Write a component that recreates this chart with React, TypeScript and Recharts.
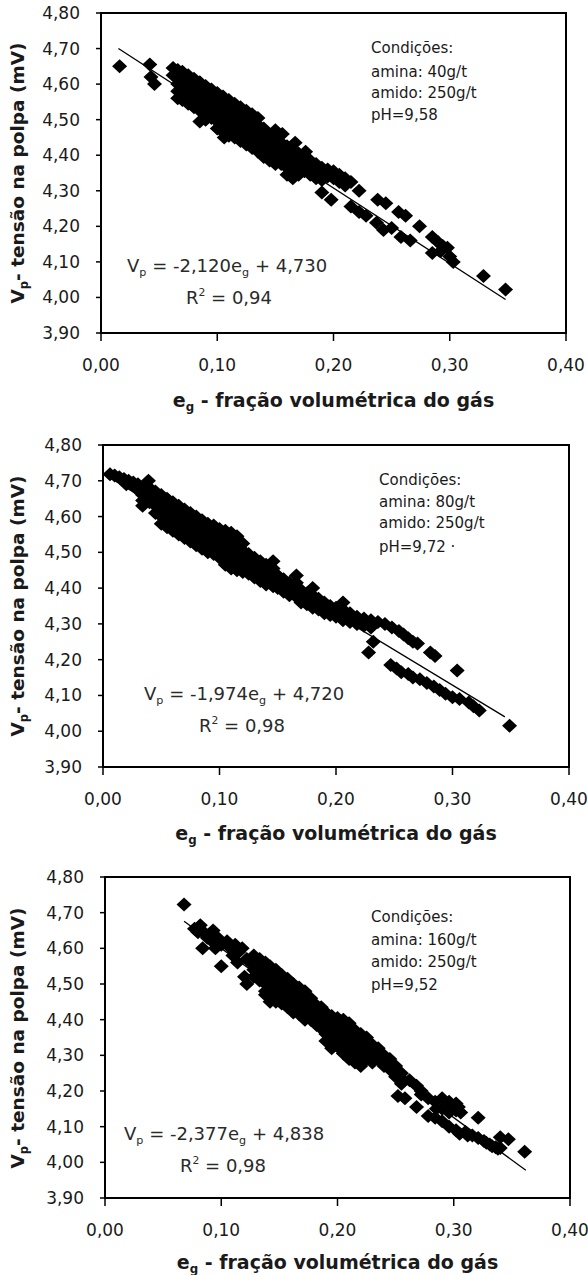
import React from 'react';
import { ScatterChart, Scatter, XAxis, YAxis, ReferenceArea, ReferenceLine } from 'recharts';

const xTicks = [0, 0.1, 0.2, 0.3, 0.4];
const yTicks = [3.9, 4.0, 4.1, 4.2, 4.3, 4.4, 4.5, 4.6, 4.7, 4.8];

// Chart 1 – amina 40 g/t : [eg, Vp]
const points1: number[][] = [
  [0.016, 4.65], [0.042, 4.655], [0.043, 4.62], [0.046, 4.6],
  [0.062, 4.645], [0.062, 4.625],
  [0.066, 4.64], [0.066, 4.62], [0.066, 4.6], [0.066, 4.58], [0.066, 4.56],
  [0.07, 4.635], [0.07, 4.615], [0.07, 4.595], [0.07, 4.575], [0.07, 4.555],
  [0.075, 4.625], [0.075, 4.605], [0.075, 4.585], [0.075, 4.565], [0.075, 4.545],
  [0.08, 4.615], [0.08, 4.595], [0.08, 4.575], [0.08, 4.555], [0.08, 4.535],
  [0.085, 4.605], [0.085, 4.585], [0.085, 4.565], [0.085, 4.545], [0.085, 4.525], [0.085, 4.495],
  [0.09, 4.595], [0.09, 4.575], [0.09, 4.555], [0.09, 4.535], [0.09, 4.515], [0.09, 4.5],
  [0.095, 4.585], [0.095, 4.565], [0.095, 4.545], [0.095, 4.525], [0.095, 4.505],
  [0.1, 4.575], [0.1, 4.555], [0.1, 4.535], [0.1, 4.515], [0.1, 4.495], [0.1, 4.475],
  [0.105, 4.565], [0.105, 4.545], [0.105, 4.525], [0.105, 4.505], [0.105, 4.485], [0.105, 4.465], [0.106, 4.45],
  [0.11, 4.555], [0.11, 4.535], [0.11, 4.515], [0.11, 4.495], [0.11, 4.475], [0.11, 4.455],
  [0.115, 4.545], [0.115, 4.525], [0.115, 4.505], [0.115, 4.485], [0.115, 4.465], [0.115, 4.45],
  [0.12, 4.535], [0.12, 4.515], [0.12, 4.495], [0.12, 4.475], [0.12, 4.455], [0.12, 4.44],
  [0.125, 4.525], [0.125, 4.505], [0.125, 4.485], [0.125, 4.465], [0.125, 4.445], [0.125, 4.43],
  [0.13, 4.515], [0.13, 4.495], [0.13, 4.475], [0.13, 4.455], [0.13, 4.435], [0.13, 4.42],
  [0.135, 4.505], [0.135, 4.485], [0.135, 4.465], [0.135, 4.445], [0.135, 4.425], [0.135, 4.41],
  [0.14, 4.475], [0.14, 4.455], [0.14, 4.435], [0.14, 4.415], [0.14, 4.395],
  [0.145, 4.455], [0.145, 4.435], [0.145, 4.415], [0.145, 4.395], [0.145, 4.385],
  [0.15, 4.445], [0.15, 4.425], [0.15, 4.405], [0.15, 4.385], [0.15, 4.375],
  [0.155, 4.435], [0.155, 4.415], [0.155, 4.395], [0.155, 4.375],
  [0.16, 4.425], [0.16, 4.405], [0.16, 4.385], [0.16, 4.365], [0.16, 4.345],
  [0.165, 4.415], [0.165, 4.395], [0.165, 4.375], [0.165, 4.355], [0.165, 4.335],
  [0.17, 4.405], [0.17, 4.385], [0.17, 4.365], [0.17, 4.345],
  [0.175, 4.395], [0.175, 4.375], [0.175, 4.355],
  [0.15, 4.47], [0.156, 4.46], [0.167, 4.435], [0.176, 4.41],
  [0.18, 4.385], [0.18, 4.365], [0.18, 4.345],
  [0.185, 4.375], [0.185, 4.355], [0.185, 4.335],
  [0.19, 4.365], [0.19, 4.345], [0.19, 4.33],
  [0.195, 4.36], [0.195, 4.34], [0.2, 4.355], [0.2, 4.335],
  [0.205, 4.345], [0.205, 4.325], [0.21, 4.335], [0.21, 4.315], [0.215, 4.325],
  [0.19, 4.295], [0.198, 4.275], [0.215, 4.256], [0.222, 4.24], [0.228, 4.23],
  [0.222, 4.3], [0.238, 4.275], [0.245, 4.265], [0.256, 4.24], [0.262, 4.23], [0.274, 4.2],
  [0.237, 4.21], [0.243, 4.19], [0.25, 4.195], [0.258, 4.17], [0.266, 4.16],
  [0.285, 4.17], [0.29, 4.155], [0.294, 4.145], [0.285, 4.125], [0.292, 4.13],
  [0.3, 4.115], [0.303, 4.1], [0.298, 4.14],
  [0.329, 4.06], [0.348, 4.022],
];

// Chart 2 – amina 80 g/t
const points2: number[][] = [
  [0.006, 4.718], [0.01, 4.715], [0.014, 4.71], [0.018, 4.705], [0.022, 4.7],
  [0.026, 4.695], [0.03, 4.69], [0.02, 4.69], [0.028, 4.68],
  [0.034, 4.68], [0.034, 4.66], [0.034, 4.645], [0.034, 4.63], [0.039, 4.7], [0.04, 4.68], [0.04, 4.66], [0.04, 4.64],
  [0.045, 4.67], [0.045, 4.65], [0.045, 4.63], [0.045, 4.61],
  [0.05, 4.66], [0.05, 4.64], [0.05, 4.62], [0.05, 4.6], [0.05, 4.58],
  [0.055, 4.65], [0.055, 4.63], [0.055, 4.61], [0.055, 4.59], [0.055, 4.57],
  [0.06, 4.64], [0.06, 4.62], [0.06, 4.6], [0.06, 4.58], [0.06, 4.56],
  [0.065, 4.63], [0.065, 4.61], [0.065, 4.59], [0.065, 4.57], [0.065, 4.55],
  [0.07, 4.62], [0.07, 4.6], [0.07, 4.58], [0.07, 4.56], [0.07, 4.54],
  [0.075, 4.61], [0.075, 4.59], [0.075, 4.57], [0.075, 4.55], [0.075, 4.53],
  [0.08, 4.6], [0.08, 4.58], [0.08, 4.56], [0.08, 4.54], [0.08, 4.52],
  [0.085, 4.59], [0.085, 4.57], [0.085, 4.55], [0.085, 4.53], [0.085, 4.51],
  [0.09, 4.58], [0.09, 4.56], [0.09, 4.54], [0.09, 4.52], [0.09, 4.5],
  [0.095, 4.575], [0.095, 4.555], [0.095, 4.535], [0.095, 4.515], [0.095, 4.495],
  [0.1, 4.565], [0.1, 4.545], [0.1, 4.525], [0.1, 4.505], [0.1, 4.485],
  [0.105, 4.56], [0.105, 4.54], [0.105, 4.52], [0.105, 4.5], [0.105, 4.48], [0.105, 4.465],
  [0.11, 4.555], [0.11, 4.535], [0.11, 4.515], [0.11, 4.495], [0.11, 4.475], [0.11, 4.455],
  [0.115, 4.545], [0.115, 4.525], [0.115, 4.505], [0.115, 4.485], [0.115, 4.465], [0.115, 4.45],
  [0.12, 4.525], [0.12, 4.505], [0.12, 4.485], [0.12, 4.465], [0.12, 4.445],
  [0.125, 4.495], [0.125, 4.475], [0.125, 4.455], [0.125, 4.44],
  [0.13, 4.485], [0.13, 4.465], [0.13, 4.445], [0.13, 4.43],
  [0.135, 4.475], [0.135, 4.455], [0.135, 4.435], [0.135, 4.42],
  [0.14, 4.465], [0.14, 4.445], [0.14, 4.425], [0.14, 4.41],
  [0.146, 4.475], [0.146, 4.455], [0.146, 4.435], [0.146, 4.415], [0.146, 4.405],
  [0.15, 4.435], [0.15, 4.415], [0.15, 4.4],
  [0.155, 4.425], [0.155, 4.405], [0.155, 4.39],
  [0.16, 4.415], [0.16, 4.395], [0.16, 4.38],
  [0.166, 4.435], [0.166, 4.415], [0.166, 4.395], [0.166, 4.375],
  [0.17, 4.395], [0.17, 4.375], [0.17, 4.36],
  [0.175, 4.385], [0.175, 4.365], [0.175, 4.355],
  [0.18, 4.4], [0.18, 4.38], [0.18, 4.36], [0.18, 4.345],
  [0.185, 4.37], [0.185, 4.355], [0.185, 4.34],
  [0.19, 4.36], [0.19, 4.345], [0.19, 4.33],
  [0.195, 4.35], [0.195, 4.335], [0.195, 4.325],
  [0.2, 4.345], [0.2, 4.33], [0.2, 4.32],
  [0.206, 4.36], [0.206, 4.34], [0.206, 4.325], [0.206, 4.31],
  [0.212, 4.33], [0.212, 4.315], [0.212, 4.305],
  [0.218, 4.32], [0.218, 4.305], [0.218, 4.3],
  [0.224, 4.315], [0.224, 4.295], [0.23, 4.31], [0.23, 4.29],
  [0.236, 4.305], [0.242, 4.3], [0.248, 4.29], [0.254, 4.28], [0.258, 4.27],
  [0.262, 4.26], [0.266, 4.25], [0.27, 4.245], [0.281, 4.22], [0.285, 4.21], [0.304, 4.17],
  [0.228, 4.22], [0.232, 4.25], [0.247, 4.185], [0.252, 4.175], [0.256, 4.165],
  [0.262, 4.16], [0.266, 4.15], [0.272, 4.145], [0.278, 4.135], [0.284, 4.125],
  [0.289, 4.115], [0.294, 4.105], [0.3, 4.095], [0.306, 4.09], [0.314, 4.08],
  [0.318, 4.07], [0.323, 4.058], [0.349, 4.015],
];

// Chart 3 – amina 160 g/t
const points3: number[][] = [
  [0.068, 4.723],
  [0.077, 4.655], [0.08, 4.645], [0.082, 4.665], [0.085, 4.645], [0.088, 4.63], [0.084, 4.6],
  [0.09, 4.64], [0.093, 4.65], [0.092, 4.62], [0.095, 4.6], [0.097, 4.63], [0.1, 4.61], [0.1, 4.55],
  [0.105, 4.62], [0.108, 4.6], [0.11, 4.58], [0.112, 4.61], [0.114, 4.56], [0.115, 4.59],
  [0.118, 4.6], [0.122, 4.57], [0.125, 4.56], [0.12, 4.52], [0.122, 4.5],
  [0.128, 4.58], [0.128, 4.56], [0.128, 4.54], [0.128, 4.52],
  [0.133, 4.57], [0.133, 4.55], [0.133, 4.53], [0.133, 4.51],
  [0.138, 4.56], [0.138, 4.54], [0.138, 4.52], [0.138, 4.5], [0.138, 4.48], [0.138, 4.47],
  [0.142, 4.55], [0.142, 4.53], [0.142, 4.51], [0.142, 4.49], [0.142, 4.47], [0.142, 4.45],
  [0.147, 4.54], [0.147, 4.52], [0.147, 4.5], [0.147, 4.48], [0.147, 4.46], [0.147, 4.45],
  [0.152, 4.525], [0.152, 4.505], [0.152, 4.485], [0.152, 4.465], [0.152, 4.445],
  [0.157, 4.515], [0.157, 4.495], [0.157, 4.475], [0.157, 4.455], [0.157, 4.435],
  [0.162, 4.5], [0.162, 4.48], [0.162, 4.46], [0.162, 4.44], [0.162, 4.42],
  [0.167, 4.49], [0.167, 4.47], [0.167, 4.45], [0.167, 4.43], [0.167, 4.415],
  [0.172, 4.48], [0.172, 4.46], [0.172, 4.44], [0.172, 4.42], [0.172, 4.4],
  [0.177, 4.46], [0.177, 4.44], [0.177, 4.42], [0.177, 4.4],
  [0.182, 4.44], [0.182, 4.42], [0.182, 4.4], [0.182, 4.385],
  [0.186, 4.435], [0.186, 4.415], [0.186, 4.395], [0.186, 4.375],
  [0.19, 4.42], [0.19, 4.4], [0.19, 4.38], [0.19, 4.36], [0.19, 4.34],
  [0.195, 4.41], [0.195, 4.39], [0.195, 4.37], [0.195, 4.35], [0.195, 4.33], [0.195, 4.32],
  [0.2, 4.405], [0.2, 4.385], [0.2, 4.365], [0.2, 4.345], [0.2, 4.325],
  [0.205, 4.4], [0.205, 4.38], [0.205, 4.36], [0.205, 4.34], [0.205, 4.32], [0.205, 4.305],
  [0.21, 4.39], [0.21, 4.37], [0.21, 4.35], [0.21, 4.33], [0.21, 4.31], [0.21, 4.29],
  [0.215, 4.37], [0.215, 4.35], [0.215, 4.33], [0.215, 4.31], [0.215, 4.29], [0.215, 4.28],
  [0.22, 4.36], [0.22, 4.34], [0.22, 4.32], [0.22, 4.3], [0.22, 4.28], [0.22, 4.27],
  [0.225, 4.35], [0.225, 4.33], [0.225, 4.31], [0.225, 4.29],
  [0.23, 4.33], [0.23, 4.31], [0.23, 4.29], [0.23, 4.28],
  [0.235, 4.32], [0.235, 4.3], [0.235, 4.29],
  [0.24, 4.3], [0.24, 4.285], [0.24, 4.27],
  [0.245, 4.29], [0.245, 4.275], [0.245, 4.26],
  [0.25, 4.27], [0.25, 4.255], [0.25, 4.24],
  [0.255, 4.25], [0.255, 4.235], [0.255, 4.22],
  [0.252, 4.186], [0.258, 4.18], [0.262, 4.23],
  [0.268, 4.215], [0.268, 4.155], [0.272, 4.2], [0.272, 4.19],
  [0.278, 4.18], [0.278, 4.13], [0.284, 4.17], [0.284, 4.125], [0.285, 4.15],
  [0.29, 4.18], [0.29, 4.15], [0.29, 4.115],
  [0.296, 4.17], [0.296, 4.14], [0.296, 4.1], [0.298, 4.16],
  [0.302, 4.165], [0.302, 4.145], [0.302, 4.09], [0.304, 4.155], [0.306, 4.14], [0.305, 4.08],
  [0.31, 4.085], [0.312, 4.075], [0.316, 4.075], [0.321, 4.125], [0.321, 4.068],
  [0.326, 4.06], [0.328, 4.055], [0.331, 4.05], [0.333, 4.045], [0.336, 4.042], [0.338, 4.038],
  [0.34, 4.07], [0.34, 4.04], [0.347, 4.065], [0.361, 4.03],
];

// fitted lines, endpoints
const trend1 = [[0.015, 4.7], [0.348, 3.994]];
const trend2 = [[0.004, 4.712], [0.345, 4.04]];
const trend3 = [[0.068, 4.676], [0.362, 3.978]];

const cond1 = ['Condições:', 'amina: 40g/t', 'amido: 250g/t', 'pH=9,58'];
const cond2 = ['Condições:', 'amina: 80g/t', 'amido: 250g/t', 'pH=9,72 ·'];
const cond3 = ['Condições:', 'amina: 160g/t', 'amido: 250g/t', 'pH=9,52'];

const eq1 = { slope: '-2,120', icpt: '4,730', r2: '0,94' };
const eq2 = { slope: '-1,974', icpt: '4,720', r2: '0,98' };
const eq3 = { slope: '-2,377', icpt: '4,838', r2: '0,98' };

const FONT = '"DejaVu Sans", "Liberation Sans", Arial, sans-serif';
const TXT = '#1a1a1a';
const fmt = (v: number) => v.toFixed(2).replace('.', ',');

const Diamond = (props: any) => {
  const { cx, cy } = props;
  if (cx == null || cy == null) return null;
  return <path d={`M${cx},${cy - 7}L${cx + 7.5},${cy}L${cx},${cy + 7}L${cx - 7.5},${cy}Z`} fill="#000" />;
};

const SubSpan = ({ children }: { children: React.ReactNode }) => (
  <span style={{ fontSize: '0.62em', position: 'relative', top: '0.35em' }}>{children}</span>
);

type PanelProps = {
  top: number;
  plotLeft: number;
  plotRight: number;
  plotBottom: number;
  points: number[][];
  trend: number[][];
  cond: string[];
  eq: { slope: string; icpt: string; r2: string };
  condPos: { x: number; y: number[] };
  eqPos: { x: number; y: number; rx: number; ry: number };
  xTitleDy: number;
};

const H = 432;

const Panel = (p: PanelProps) => {
  const data = p.points.map(([x, y]) => ({ x, y }));
  const plotTop = 13;
  const xAxisH = 40;
  const localBottom = p.plotBottom - p.top;
  const marginBottom = H - localBottom - xAxisH;
  const centerY = (plotTop + localBottom) / 2;
  const centerX = (p.plotLeft + p.plotRight) / 2;
  return (
    <div style={{ position: 'absolute', left: 0, top: p.top, width: 588, height: H }}>
      <ScatterChart
        width={588}
        height={H}
        margin={{ top: plotTop, right: 588 - p.plotRight, bottom: marginBottom, left: 0 }}
      >
        <XAxis
          type="number"
          dataKey="x"
          domain={[0, 0.4]}
          ticks={xTicks}
          tickFormatter={fmt}
          height={xAxisH}
          tickSize={8}
          tickMargin={18}
          axisLine={{ stroke: '#000', strokeWidth: 2 }}
          tickLine={{ stroke: '#000', strokeWidth: 1.5 }}
          tick={{ fill: TXT, fontSize: 17, fontFamily: FONT }}
          interval={0}
        />
        <YAxis
          type="number"
          dataKey="y"
          domain={[3.9, 4.8]}
          ticks={yTicks}
          tickFormatter={fmt}
          width={p.plotLeft}
          tickSize={5}
          tickMargin={16}
          axisLine={{ stroke: '#000', strokeWidth: 2 }}
          tickLine={{ stroke: '#000', strokeWidth: 1.5 }}
          tick={{ fill: TXT, fontSize: 17, fontFamily: FONT }}
          interval={0}
        />
        <ReferenceArea x1={0} x2={0.4} y1={3.9} y2={4.8} fill="none" fillOpacity={0} stroke="#000" strokeWidth={2} ifOverflow="visible" />
        <ReferenceLine
          segment={[{ x: p.trend[0][0], y: p.trend[0][1] }, { x: p.trend[1][0], y: p.trend[1][1] }]}
          stroke="#000"
          strokeWidth={1.3}
          ifOverflow="visible"
        />
        <Scatter data={data} shape={Diamond} isAnimationActive={false} />
      </ScatterChart>

      {/* y axis title */}
      <div
        style={{
          position: 'absolute',
          left: 17,
          top: centerY,
          transform: 'translate(-50%, -50%) rotate(-90deg)',
          whiteSpace: 'nowrap',
          fontFamily: FONT,
          fontWeight: 'bold',
          fontSize: 18.5,
          color: TXT,
        }}
      >
        V<SubSpan>p</SubSpan>- tensão na polpa (mV)
      </div>

      {/* x axis title */}
      <div
        style={{
          position: 'absolute',
          left: centerX,
          top: localBottom + p.xTitleDy,
          transform: 'translate(-50%, -50%)',
          whiteSpace: 'nowrap',
          fontFamily: FONT,
          fontWeight: 'bold',
          fontSize: 19,
          color: TXT,
        }}
      >
        e<SubSpan>g</SubSpan> - fração volumétrica do gás
      </div>

      {/* conditions */}
      {p.cond.map((t, i) => (
        <div
          key={i}
          style={{
            position: 'absolute',
            left: p.condPos.x,
            top: p.condPos.y[i] - p.top,
            transform: 'translateY(-50%)',
            whiteSpace: 'nowrap',
            fontFamily: FONT,
            fontSize: 15,
            color: TXT,
          }}
        >
          {t}
        </div>
      ))}

      {/* equation */}
      <div
        style={{
          position: 'absolute',
          left: p.eqPos.x,
          top: p.eqPos.y - p.top,
          transform: 'translateY(-50%)',
          whiteSpace: 'nowrap',
          fontFamily: FONT,
          fontSize: 18,
          color: '#2a2a2a',
        }}
      >
        V<SubSpan>p</SubSpan> = {p.eq.slope}e<SubSpan>g</SubSpan> + {p.eq.icpt}
      </div>
      <div
        style={{
          position: 'absolute',
          left: p.eqPos.rx,
          top: p.eqPos.ry - p.top,
          transform: 'translateY(-50%)',
          whiteSpace: 'nowrap',
          fontFamily: FONT,
          fontSize: 18,
          color: '#2a2a2a',
        }}
      >
        R<span style={{ fontSize: '0.6em', position: 'relative', top: '-0.7em' }}>2</span> = {p.eq.r2}
      </div>
    </div>
  );
};

export default function App() {
  return (
    <div style={{ position: 'absolute', left: 0, top: 0, width: 588, height: 1275, background: '#fff' }}>
      <Panel
        top={0}
        plotLeft={101}
        plotRight={566}
        plotBottom={333}
        points={points1}
        trend={trend1}
        cond={cond1}
        eq={eq1}
        condPos={{ x: 371, y: [48, 72, 93, 115] }}
        eqPos={{ x: 127, y: 265, rx: 186, ry: 297 }}
        xTitleDy={67}
      />
      <Panel
        top={432}
        plotLeft={103}
        plotRight={569}
        plotBottom={767}
        points={points2}
        trend={trend2}
        cond={cond2}
        eq={eq2}
        condPos={{ x: 379, y: [480, 502, 523, 547] }}
        eqPos={{ x: 144, y: 693, rx: 199, ry: 725 }}
        xTitleDy={66}
      />
      <Panel
        top={864}
        plotLeft={105}
        plotRight={570}
        plotBottom={1198}
        points={points3}
        trend={trend3}
        cond={cond3}
        eq={eq3}
        condPos={{ x: 371, y: [917, 940, 962, 985] }}
        eqPos={{ x: 124, y: 1133, rx: 180, ry: 1165 }}
        xTitleDy={64}
      />
    </div>
  );
}
